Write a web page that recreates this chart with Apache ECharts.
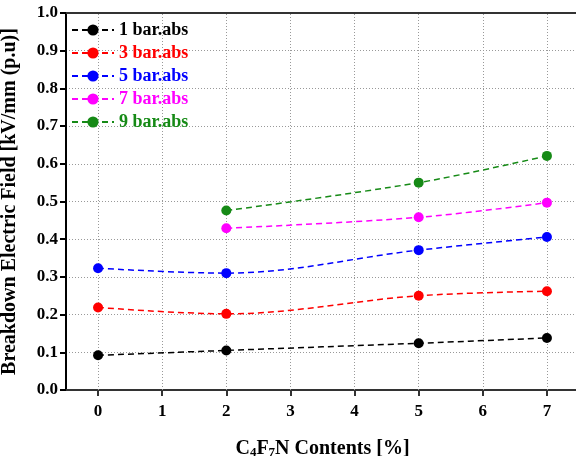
<!DOCTYPE html>
<html>
<head>
<meta charset="utf-8">
<script src="https://cdn.jsdelivr.net/npm/echarts@6/dist/echarts.min.js"></script>
<style>html,body{margin:0;padding:0;background:#fff;}#c{width:576px;height:456px;}</style>
</head>
<body>
<div id="c"></div>
<script>
const xTicks = [0, 1, 2, 3, 4, 5, 6, 7];
const yTicks = [0, 0.1, 0.2, 0.3, 0.4, 0.5, 0.6, 0.7, 0.8, 0.9, 1.0];
const seriesNames = ['1 bar.abs', '3 bar.abs', '5 bar.abs', '7 bar.abs', '9 bar.abs'];
const colors = ['#000000', '#ff0000', '#0000ff', '#ff00ff', '#168a16'];
const x1 = [0, 2, 5, 7];
const y1 = [0.092, 0.105, 0.124, 0.138];
const x3 = [0, 2, 5, 7];
const y3 = [0.219, 0.202, 0.250, 0.262];
const x5 = [0, 2, 5, 7];
const y5 = [0.323, 0.310, 0.371, 0.406];
const x7 = [2, 5, 7];
const y7 = [0.429, 0.458, 0.497];
const x9 = [2, 5, 7];
const y9 = [0.476, 0.550, 0.621];

const xs = [x1, x3, x5, x7, x9];
const ys = [y1, y3, y5, y7, y9];
const FONT = "'Liberation Serif', 'Times New Roman', serif";
const gridDot = { color: '#999', type: [1, 2], width: 1 };

const series = seriesNames.map((n, i) => ({
  name: n,
  type: 'line',
  smooth: 0.35,
  z: 3,
  data: xs[i].map((x, j) => [x, ys[i][j]]),
  symbol: 'circle',
  symbolSize: 10,
  itemStyle: { color: colors[i] },
  lineStyle: { color: colors[i], width: 1.5, type: [6, 4] }
}));
series[0].markLine = {
  silent: true,
  symbol: 'none',
  z: 1,
  label: { show: false },
  lineStyle: gridDot,
  emphasis: { disabled: true },
  data: xTicks.map(x => ({ xAxis: x }))
};

const chart = echarts.init(document.getElementById('c'), null, { renderer: 'canvas' });
chart.setOption({
  animation: false,
  backgroundColor: '#fff',
  grid: { left: 66, top: 13, width: 513, height: 377, containLabel: false, outerBoundsMode: 'none' },
  legend: {
    orient: 'vertical',
    left: 66,
    top: 16,
    itemWidth: 42,
    itemHeight: 14,
    itemGap: 5,
    data: seriesNames.map((n, i) => ({ name: n, textStyle: { color: colors[i] } })),
    textStyle: { fontFamily: FONT, fontWeight: 'bold', fontSize: 18 }
  },
  xAxis: [{
    type: 'value',
    min: -0.5,
    max: 7.5,
    name: '{b|C}{s|4}{b|F}{s|7}{b|N Contents [%]}',
    nameLocation: 'middle',
    nameGap: 48,
    nameTextStyle: {
      rich: {
        b: { fontFamily: FONT, fontWeight: 'bold', fontSize: 20, color: '#000' },
        s: { fontFamily: FONT, fontWeight: 'bold', fontSize: 13, color: '#000', verticalAlign: 'bottom', padding: [8, 0, 0, 0] }
      }
    },
    axisLine: { onZero: false, lineStyle: { color: '#333', width: 2 } },
    axisTick: { show: true, inside: false, length: 6, customValues: xTicks, lineStyle: { color: '#333', width: 2 } },
    axisLabel: { customValues: xTicks, margin: 13, fontFamily: FONT, fontWeight: 'bold', fontSize: 17, color: '#000', formatter: v => String(v) },
    splitLine: { show: false }
  }, {
    type: 'value',
    position: 'top',
    min: -0.5,
    max: 7.5,
    axisLine: { show: true, onZero: false, lineStyle: { color: '#333', width: 2 } },
    axisTick: { show: false },
    axisLabel: { show: false },
    splitLine: { show: false }
  }],
  yAxis: {
    type: 'value',
    min: 0,
    max: 1.0,
    interval: 0.1,
    name: 'Breakdown Electric Field [kV/mm (p.u)]',
    nameLocation: 'middle',
    nameGap: 46,
    nameTextStyle: { fontFamily: FONT, fontWeight: 'bold', fontSize: 20, color: '#000' },
    axisLine: { show: true, onZero: false, lineStyle: { color: '#000', width: 2 } },
    axisTick: { show: true, inside: false, length: 6, lineStyle: { color: '#000', width: 2 } },
    axisLabel: { margin: 8, fontFamily: FONT, fontWeight: 'bold', fontSize: 17, color: '#000', formatter: v => v.toFixed(1) },
    splitLine: { show: true, lineStyle: gridDot }
  },
  series: series
});
</script>
</body>
</html>
